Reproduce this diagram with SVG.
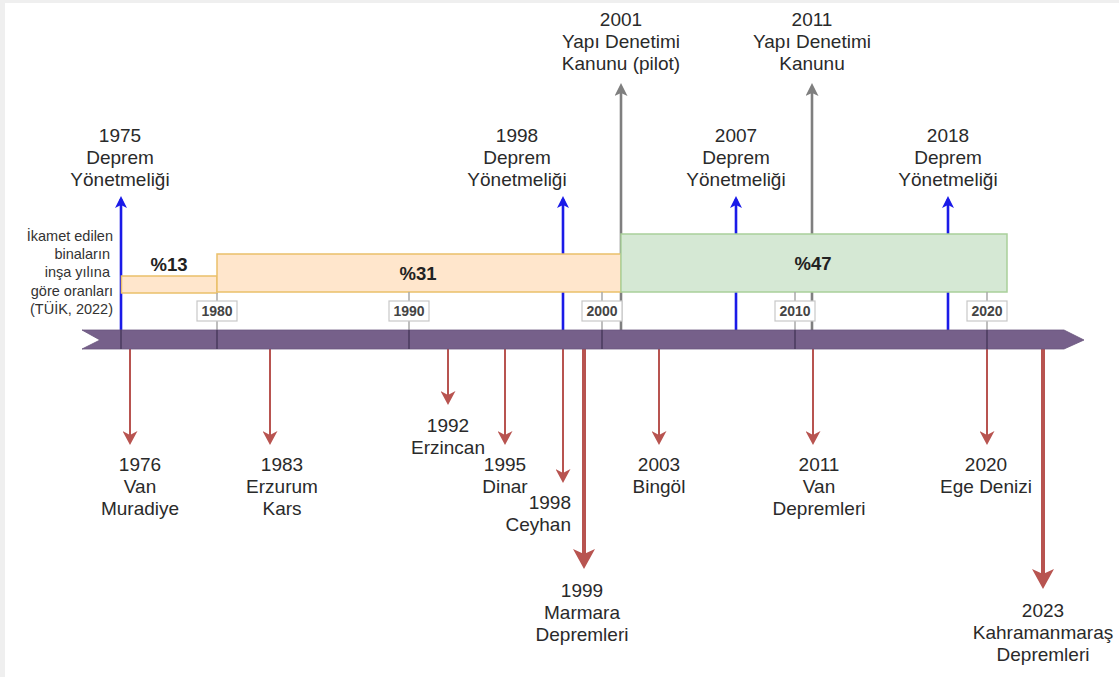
<svg xmlns="http://www.w3.org/2000/svg" width="1119" height="677" viewBox="0 0 1119 677">
<defs>
<style>
.lbl{font-family:"Liberation Sans",Arial,sans-serif;font-size:19px;fill:#2a2a2a;text-anchor:middle}
.sm{font-family:"Liberation Sans",Arial,sans-serif;font-size:14.5px;fill:#333;text-anchor:end}
.pct{font-family:"Liberation Sans",Arial,sans-serif;font-size:18.5px;font-weight:bold;fill:#222;text-anchor:middle}
.yr{font-family:"Liberation Sans",Arial,sans-serif;font-size:14px;font-weight:bold;fill:#444;text-anchor:middle}
.ybox{fill:#fff;stroke:#c8c8c8;stroke-width:1.2}
.tick{stroke:#a8a8a8;stroke-width:1.5}
.tickd{stroke:#4a3a5c;stroke-width:1.5}
.blue{stroke:#1a1ae8;stroke-width:2.6;fill:none;marker-end:url(#hBlue)}
.gray{stroke:#7f7f7f;stroke-width:2.6;fill:none;marker-end:url(#hGray)}
.red{stroke:#b85450;stroke-width:2;fill:none;marker-end:url(#hRed)}
.redT{stroke:#b85450;stroke-width:4;fill:none;marker-end:url(#hRedT)}
.orange{fill:#ffe6cc;stroke:#eac06a;stroke-width:1.5}
.green{fill:#d5e8d4;stroke:#a9d09a;stroke-width:1.5}
</style>
<marker id="hBlue" markerUnits="userSpaceOnUse" markerWidth="13" markerHeight="12" refX="9" refY="6" orient="auto"><path d="M0,0 L12,6 L0,12 L3,6 Z" fill="#1a1ae8"/></marker>
<marker id="hGray" markerUnits="userSpaceOnUse" markerWidth="14" markerHeight="13" refX="9" refY="6.5" orient="auto"><path d="M0,0 L13,6.5 L0,13 L3,6.5 Z" fill="#7f7f7f"/></marker>
<marker id="hRed" markerUnits="userSpaceOnUse" markerWidth="15" markerHeight="15" refX="10" refY="7.5" orient="auto"><path d="M0,0 L14,7.5 L0,15 L4,7.5 Z" fill="#b85450"/></marker>
<marker id="hRedT" markerUnits="userSpaceOnUse" markerWidth="21" markerHeight="22" refX="14" refY="11" orient="auto"><path d="M0,0 L20,11 L0,22 L5,11 Z" fill="#b85450"/></marker>
</defs>
<rect x="0" y="0" width="1119" height="677" fill="#efefef"/>
<rect x="5" y="3" width="1114" height="674" fill="#ffffff"/>

<g id="connectors">
<line class="blue" x1="121" y1="330" x2="121" y2="199"/>
<line class="blue" x1="563" y1="330" x2="563" y2="199"/>
<line class="blue" x1="736" y1="330" x2="736" y2="199"/>
<line class="blue" x1="948" y1="330" x2="948" y2="199"/>
<line class="gray" x1="621" y1="330" x2="621" y2="87"/>
<line class="gray" x1="812" y1="330" x2="812" y2="87"/>
<line class="red" x1="130" y1="349" x2="130" y2="441"/>
<line class="red" x1="270" y1="349" x2="270" y2="441"/>
<line class="red" x1="448" y1="349" x2="448" y2="401"/>
<line class="red" x1="505" y1="349" x2="505" y2="441"/>
<line class="red" x1="563" y1="349" x2="563" y2="479"/>
<line class="redT" x1="584" y1="349" x2="584" y2="563"/>
<line class="red" x1="659" y1="349" x2="659" y2="441"/>
<line class="red" x1="813" y1="349" x2="813" y2="441"/>
<line class="red" x1="987" y1="349" x2="987" y2="441"/>
<line class="redT" x1="1043" y1="349" x2="1043" y2="583"/>
</g>

<g id="bands">
<rect class="orange" x="121.5" y="276" width="95.5" height="17"/>
<rect class="orange" x="217" y="254" width="404" height="38"/>
<rect class="green" x="621" y="234" width="386" height="58"/>
</g>

<g id="ticks">
<line class="tick" x1="217" y1="293" x2="217" y2="330"/>
<line class="tick" x1="409" y1="292" x2="409" y2="330"/>
<line class="tick" x1="602" y1="292" x2="602" y2="330"/>
<line class="tick" x1="795" y1="292" x2="795" y2="330"/>
<line class="tick" x1="987" y1="292" x2="987" y2="330"/>
</g>

<g id="timeline">
<path d="M82,330 L1064,330 L1084,340 L1064,349 L82,349 L100,340 Z" fill="#76608a" stroke="#6a557e" stroke-width="0.8"/>
<line class="tickd" x1="121" y1="330" x2="121" y2="349"/>
<line class="tickd" x1="217" y1="330" x2="217" y2="349"/>
<line class="tickd" x1="409" y1="330" x2="409" y2="349"/>
<line class="tickd" x1="602" y1="330" x2="602" y2="349"/>
<line class="tickd" x1="795" y1="330" x2="795" y2="349"/>
<line class="tickd" x1="987" y1="330" x2="987" y2="349"/>
</g>

<g id="y1980"><rect class="ybox" x="197" y="301" width="40" height="20"/><text class="yr" x="217" y="316">1980</text></g>
<g id="y1990"><rect class="ybox" x="389" y="301" width="40" height="20"/><text class="yr" x="409" y="316">1990</text></g>
<g id="y2000"><rect class="ybox" x="582" y="301" width="40" height="20"/><text class="yr" x="602" y="316">2000</text></g>
<g id="y2010"><rect class="ybox" x="775" y="301" width="40" height="20"/><text class="yr" x="795" y="316">2010</text></g>
<g id="y2020"><rect class="ybox" x="967" y="301" width="40" height="20"/><text class="yr" x="987" y="316">2020</text></g>

<g id="p13"><text class="pct" x="169" y="271">%13</text></g>
<g id="p31"><text class="pct" x="418" y="280">%31</text></g>
<g id="p47"><text class="pct" x="813" y="270">%47</text></g>

<g id="legend">
<text class="sm" x="113" y="241">İkamet edilen</text>
<text class="sm" x="110" y="259">binaların</text>
<text class="sm" x="110" y="277">inşa yılına</text>
<text class="sm" x="113" y="296">göre oranları</text>
<text class="sm" x="113" y="314">(TÜİK, 2022)</text>
</g>

<g id="n1975"><text class="lbl" x="120" y="142">1975</text><text class="lbl" x="120" y="164">Deprem</text><text class="lbl" x="120" y="186">Yönetmeliği</text></g>
<g id="n1998r"><text class="lbl" x="517" y="142">1998</text><text class="lbl" x="517" y="164">Deprem</text><text class="lbl" x="517" y="186">Yönetmeliği</text></g>
<g id="n2007"><text class="lbl" x="736" y="142">2007</text><text class="lbl" x="736" y="164">Deprem</text><text class="lbl" x="736" y="186">Yönetmeliği</text></g>
<g id="n2018"><text class="lbl" x="948" y="142">2018</text><text class="lbl" x="948" y="164">Deprem</text><text class="lbl" x="948" y="186">Yönetmeliği</text></g>
<g id="n2001"><text class="lbl" x="621" y="26">2001</text><text class="lbl" x="621" y="48">Yapı Denetimi</text><text class="lbl" x="621" y="70">Kanunu (pilot)</text></g>
<g id="n2011k"><text class="lbl" x="812" y="26">2011</text><text class="lbl" x="812" y="48">Yapı Denetimi</text><text class="lbl" x="812" y="70">Kanunu</text></g>

<g id="e1976"><text class="lbl" x="140" y="471">1976</text><text class="lbl" x="140" y="493">Van</text><text class="lbl" x="140" y="515">Muradiye</text></g>
<g id="e1983"><text class="lbl" x="282" y="471">1983</text><text class="lbl" x="282" y="493">Erzurum</text><text class="lbl" x="282" y="515">Kars</text></g>
<g id="e1992"><text class="lbl" x="448" y="432">1992</text><text class="lbl" x="448" y="454">Erzincan</text></g>
<g id="e1995"><text class="lbl" x="505" y="471">1995</text><text class="lbl" x="505" y="493">Dinar</text></g>
<g id="e1998"><text class="lbl" x="571" y="509" style="text-anchor:end">1998</text><text class="lbl" x="571" y="531" style="text-anchor:end">Ceyhan</text></g>
<g id="e1999"><text class="lbl" x="582" y="597">1999</text><text class="lbl" x="582" y="619">Marmara</text><text class="lbl" x="582" y="641">Depremleri</text></g>
<g id="e2003"><text class="lbl" x="659" y="471">2003</text><text class="lbl" x="659" y="493">Bingöl</text></g>
<g id="e2011"><text class="lbl" x="819" y="471">2011</text><text class="lbl" x="819" y="493">Van</text><text class="lbl" x="819" y="515">Depremleri</text></g>
<g id="e2020"><text class="lbl" x="986" y="471">2020</text><text class="lbl" x="986" y="493">Ege Denizi</text></g>
<g id="e2023"><text class="lbl" x="1043" y="617">2023</text><text class="lbl" x="1043" y="639">Kahramanmaraş</text><text class="lbl" x="1043" y="661">Depremleri</text></g>
</svg>
